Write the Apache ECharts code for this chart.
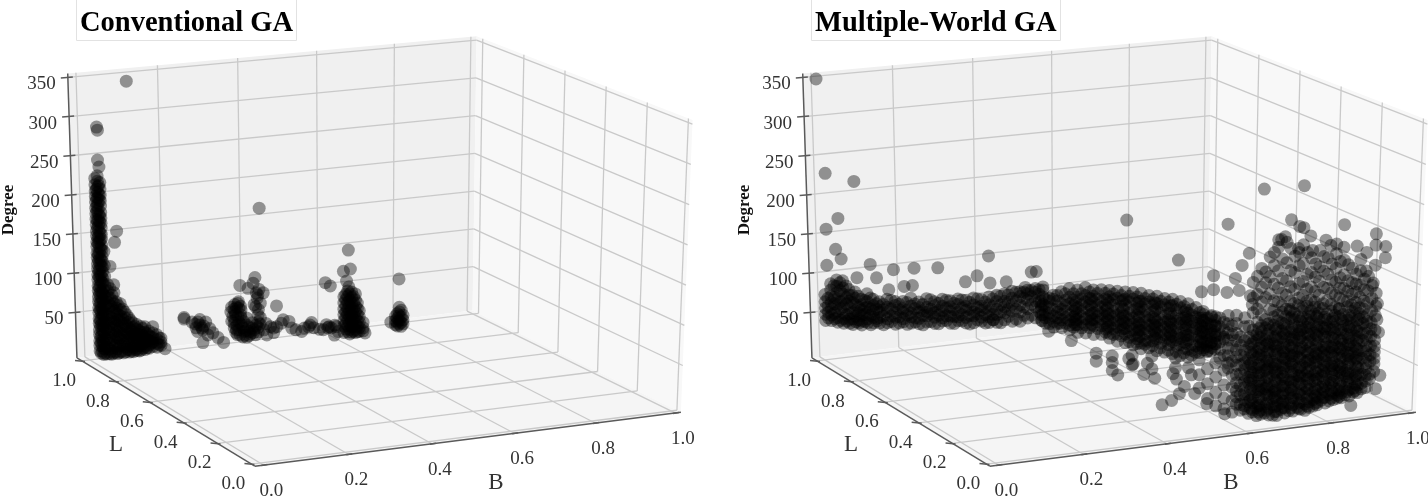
<!DOCTYPE html>
<html><head><meta charset="utf-8">
<style>html,body{margin:0;padding:0;background:#fff}#c{width:1428px;height:497px}</style>
<script src="https://cdn.jsdelivr.net/npm/echarts@6/dist/echarts.min.js"></script></head>
<body><div id="c"></div>
<script>
// Tick values
const bTicks=[0,.2,.4,.6,.8,1];
const lTicks=[0,.2,.4,.6,.8,1];
const degreeTicks=[50,100,150,200,250,300,350];

// Column form: [L, B, Degree, Degree, ...]  single points: [B, L, Degree]
const conventionalColumns=[
[1,.026,222,214,206,199,192,184,177,170,163,155,149,141,135,127,121,113,107,99,93,85,79,71,65,57,51,43,37,29,23,15,9,2],
[1,.032,225,218,211,204,197,190,183,176,169,162,155,148,141,134,127,120,113,106,99,92,85,78,71,64,57,50,43,36,29,22,15,8,1],
[1,.038,216,208,200,193,186,178,171,164,158,150,144,136,130,122,116,108,102,94,88,80,74,66,60,52,46,38,32,24,18,10,4,-2],
[1,.029,208,196,187,180,168,159,146,139,125,117,104,96,83,75,62,54,41,34,20,12,-1],
[1,.035,212,201,194,174,166,152,143,132,118,110,97,89,76,68,55,47,34,27,13,5,-3],
[1,.043,128,110,96,84,70,60,48,38,28,16,6,-3],
[1,.05,85,77,70,62,55,47,40,32,25,17,10,3,-3],
[1,.055,80,68,58,44,36,22,14,0,-4],
[1,.06,71,64,56,49,41,34,26,19,11,4,-3],
[1,.065,74,60,51,37,29,21,7,-2],
[1,.07,62,54,47,40,32,25,17,10,2,-4],
[1,.075,57,45,38,24,15,5,-3],
[1,.08,59,51,43,36,28,21,13,6,-2],
[1,.085,52,39,30,18,8,-4],
[1,.09,48,41,33,26,18,11,3,-3],
[1,.095,44,30,22,12,0],
[1,.10,40,34,27,20,13,6,-1,-4],
[1,.105,36,24,16,3,-3],
[1,.11,33,27,21,14,8,1,-4],
[1,.115,28,17,9,-2],
[1,.12,30,24,18,12,6,0,-3],
[1,.125,22,10,3,-4],
[1,.13,27,20,14,8,2,-3],
[1,.135,24,15,5,-1],
[1,.14,26,19,13,7,1,-3],
[1,.145,17,9,-1],
[1,.15,20,14,8,2,-2],
[1,.155,12,4],
[1,.16,25,17,11,5,0],
[1,.17,14,8,3,-2],
[1,.175,10,1],
[1,.18,9,4,0],
[1,.19,-5],
[.9,.605,50,42,34,27,19,12,4],
[.9,.615,57,50,42,34,27,19,12,4],
[.9,.625,55,48,40,33,25,18,10,3],
[.9,.635,52,44,36,29,21,14,6,2],
[.9,.61,53,46,38,30,23,15,8],
[.9,.62,53,45,38,30,23,15,7,1],
[.9,.63,49,41,33,26,19,11,4],
[.9,.64,40,33,25,17,10,3],
[.9,.645,30,22,15,8,3],
[.9,.655,14,7,3],
[.9,.74,17,11,6],
[.9,.75,22,17,11,6],
[.9,.76,17,11,6],
[.9,.745,20,14,9,4],
[.9,.755,24,15,8,3],
[.9,.728,10],[.9,.75,28],[.9,.749,65]
];
const conventionalPoints=[
[.11,1,342],[.034,1,287],[.036,1,283],[.034,1,245],[.037,1,236],[.436,1,162],[.076,1,152],[.07,1,138],[.666,1,95],
[.065,1,84],[.057,1,108],
[.24,1,32],[.24,1,30],[.28,1,20],[.26,1,25],[.27,1,17],[.287,1,13],[.295,1,23],[.28,1,27],[.30,1,6],[.313,1,8],[.287,1,-3],[.34,1,-6],[.326,1,1],[.274,1,12],[.29,1,18],[.305,1,14],[.275,1,24],[.285,1,16],[.268,1,22],
[.37,1,41],[.38,1,44],[.36,1,32],[.37,1,32],[.386,1,33],[.37,1,21],[.386,1,23],[.40,1,22],[.368,1,11],[.38,1,8],[.394,1,5],[.407,1,4],[.42,1,6],[.43,1,8],[.40,1,13],[.415,1,15],[.43,1,15],[.386,1,14],[.376,1,2],[.39,1,-2],[.407,1,-1],[.423,1,-1],
[.372,1,28],[.38,1,18],[.39,1,10],[.405,1,10],[.418,1,2],[.362,1,20],[.375,1,14],[.38,1,36],[.378,1,42],[.362,1,38],[.40,1,-3],[.43,1,2],[.372,1,5],[.385,1,27],
[.365,1,26],[.368,1,17],[.374,1,8],[.383,1,1],[.396,1,0],[.41,1,1],[.415,1,8],[.425,1,11],[.392,1,18],[.378,1,25],[.375,1,37],[.368,1,35],[.385,1,38],[.40,1,6],[.435,1,12],
[.384,1,65],[.423,1,73],[.418,1,66],[.426,1,53],[.444,1,52],[.405,1,60],[.431,1,31],[.478,1,33],[.436,1,20],[.428,1,46],[.433,1,57],[.436,1,39],[.42,1,38],[.43,1,24],[.43,1,50],[.424,1,35],
[.462,1,7],[.47,1,5],[.478,1,6],[.452,1,-3],[.47,1,-1],[.49,1,10],[.495,1,14],[.45,1,12],[.445,1,4],
[.51,1,11],[.517,1,2],[.543,1,-4],[.561,1,1],[.569,1,6],[.60,1,-5],[.621,1,-4],[.608,1,1],[.634,1,-3],[.528,1,-1],[.575,1,-1],[.59,1,-4],[.615,1,-2],[.55,1,0],[.565,1,3],[.612,1,-3],[.63,1,-1],
[.557,.9,71],[.57,.9,66],[.604,.9,83],[.622,.9,85],[.58,.9,2],[.59,.9,6],[.66,.9,0],[.612,.9,70],[.618,.9,62]
];

const worldArmColumns=[
[1,.005,75,66,58,50,42],
[1,.02,88,80,72,64,56,48,41],
[1,.035,92,84,76,68,60,52,44,38],
[1,.05,90,81,73,65,57,49,42,36],
[1,.065,78,71,63,55,47,40,35],
[1,.08,74,66,58,50,43,36],
[1,.095,64,57,50,43,36,31],
[1,.11,70,60,53,46,38,33],
[1,.125,62,54,47,39,32],
[1,.14,58,52,45,38,31],
[1,.16,60,50,44,35,30],
[1,.18,56,51,42,36,27],
[1,.20,55,46,41,33,29],
[1,.22,58,48,39,34,26],
[1,.24,52,45,39,31,24],
[1,.26,55,44,38,33,25],
[1,.28,50,45,36,30,22],
[1,.30,52,43,37,28,24],
[1,.32,49,41,35,29,20],
[1,.34,50,43,33,27,22],
[1,.36,47,39,34,25,18],
[1,.38,49,40,31,26,17],
[1,.40,46,37,32,23,18],
[1,.42,48,38,30,22,15],
[1,.44,49,41,31,24,14],
[1,.46,50,40,33,25,16],
[1,.48,52,43,35,26,13],
[1,.50,50,44,33,24,12],
[1,.52,51,46,38,27,15],
[1,.54,52,47,36,28,14],
[1,.56,53,49,40,30,17],
[1,.012,70,60,52,45],[1,.028,85,70,62,50,43],[1,.043,88,78,64,55,40],[1,.058,83,68,60,46,38],[1,.073,70,61,48,40,33],
[1,.088,68,54,46,38,34],[1,.103,62,52,44,35],[1,.118,64,50,42,30],[1,.133,56,49,37,34],[1,.15,54,47,39,28],
[1,.17,58,47,38,31],[1,.19,52,45,36,28],[1,.21,53,43,37,25],[1,.23,50,44,32,27],[1,.25,48,40,34,22],
[1,.27,53,41,35,25],[1,.29,47,38,32,21],[1,.31,50,40,30,24],[1,.33,45,37,28,19],[1,.35,48,38,29,21],
[1,.37,44,35,27,16],[1,.39,47,36,28,20],[1,.41,42,34,26,15],[1,.43,45,35,25,18],[1,.45,47,36,27,13],
[1,.47,48,38,29,20],[1,.49,50,39,28,15],[1,.51,49,41,30,19],[1,.53,50,42,32,18],[1,.55,50,44,34,21]
];
const worldBridgeColumns=[
[.6,.37,94,88,84,77,70],
[.6,.39,97,93,85,78,71,65],
[.6,.41,99,92,85,78,71,64],
[.6,.43,100,92,85,78,70,63],
[.6,.45,99,91,84,77,70,63,57],
[.6,.47,98,91,84,76,69,62,55],
[.6,.49,99,91,83,76,69,62,54],
[.6,.51,96,89,81,74,67,60,52],
[.6,.53,95,88,80,73,66,58,50,46],
[.6,.55,93,86,79,71,64,56,49,42],
[.6,.57,90,83,76,68,61,53,46,39],
[.6,.59,88,81,73,66,58,51,43,36,31],
[.6,.61,86,78,71,63,55,48,41,33,27],
[.6,.63,83,76,68,60,53,45,38,30,25],
[.6,.65,81,73,65,58,50,43,35,28,22],
[.6,.67,77,70,62,54,47,39,32,24,18],
[.6,.69,75,67,60,52,44,37,29,21,14],
[.6,.71,71,64,56,49,41,33,26,18,11],
[.6,.73,67,60,52,44,37,29,22,14,8],
[.6,.75,62,55,47,40,32,25,17,10,4],
[.6,.77,57,50,42,35,27,20,12,6],
[.6,.79,49,42,35,27,20,13,6],
[.6,.81,45,38,30,23,15,8],
[.6,.38,96,88,80,73,66],[.6,.40,100,95,82,74,67,60],[.6,.42,103,88,81,75,68,58],[.6,.44,106,95,87,73,66,60,54],
[.6,.46,103,94,81,74,66,59,50],[.6,.48,105,95,87,79,66,58,48],[.6,.50,101,93,86,72,64,56,45],[.6,.52,100,85,78,70,63,55,44],
[.6,.54,98,90,83,68,60,53,44,38],[.6,.56,96,87,74,66,58,51,42,33],[.6,.58,94,85,78,63,55,48,41,30],[.6,.60,92,84,69,60,53,45,38,26],
[.6,.62,90,80,73,66,50,43,35,27,20],[.6,.64,86,78,62,55,48,40,28,20],[.6,.66,84,75,68,52,45,37,30,15],[.6,.68,80,72,58,50,43,34,27,12],
[.6,.70,78,70,56,47,39,31,24,9],[.6,.72,74,66,52,46,34,27,19,5],[.6,.74,70,58,50,42,30,24,12,2],[.6,.76,64,52,44,37,28,15,7],[.6,.78,54,46,38,30,18,9],[.6,.80,50,41,33,24,17,6],
[.6,.455,88,80,72,66,60],[.6,.495,90,80,71,64,58],[.6,.535,86,76,69,61,52],[.6,.575,84,72,64,57,48],[.6,.615,80,70,60,52,44,36],[.6,.655,76,66,56,48,40,32],[.6,.695,70,60,50,42,34,26],[.6,.735,62,54,46,38,30,20],[.6,.775,50,40,32,24,15],
[.5,.50,30,22,12],[.5,.55,28,16],[.5,.60,24,8],[.5,.66,18,6],[.5,.46,36,26]
];
const worldBlobColumns=[
[.05,.51,44,60,78],[.05,.53,30,48,66,88],[.05,.55,20,36,55,72,95],[.05,.57,15,28,44,62,80,100],[.05,.59,10,24,40,55,72,90],
[.05,.52,136,125,112,100,92],[.05,.54,130,118,108,98,91],[.05,.55,128,117,105],[.05,.56,126,115,106,97,88,77],[.05,.57,120,111,102],
[.05,.58,128,118,107,98,88,79,70,64],[.05,.59,115,104],[.05,.60,127,117,105,96,85,76,66,55,45,35,28,19],[.05,.61,100,90,78,66,55,41,30,18,11],
[.05,.62,123,112,95,83,75,68,60,53,45,38,30,23,16,12],
[.05,.63,112,98,87,72,64,50,43,28,20,6],
[.05,.64,107,100,92,85,77,70,62,55,48,40,33,25,18,10,7],
[.05,.65,116,101,94,80,73,60,52,38,31,17,12,2],
[.05,.66,111,104,96,89,81,74,66,59,51,44,37,29,22,14,8,3],
[.05,.67,118,108,93,86,72,63,56,42,34,27,12,4],
[.05,.68,113,105,98,90,83,76,68,61,53,46,38,31,24,16,9,1],
[.05,.69,120,110,95,87,79,65,58,49,35,28,20,13,0],
[.05,.70,115,107,100,92,85,78,70,63,55,48,40,33,26,18,11,4,-1],
[.05,.71,125,112,102,94,82,71,60,51,43,35,23,13,6],
[.05,.72,119,111,104,96,89,81,74,67,59,52,44,37,29,22,15,7,1],
[.05,.73,127,116,100,93,83,72,64,57,41,32,24,12,3],
[.05,.74,122,114,107,99,92,85,77,70,62,55,47,40,33,25,18,10,2],
[.05,.75,131,117,105,96,88,75,68,53,45,38,24,16,6],
[.05,.76,124,116,109,101,94,86,79,72,64,57,49,42,34,27,20,12,3],
[.05,.77,129,113,103,97,83,74,60,53,44,31,23,9,1],
[.05,.78,123,116,108,101,93,86,78,71,63,56,49,41,34,26,19,11,4],
[.05,.79,127,118,106,95,87,73,65,58,43,36,22,13,5],
[.05,.80,119,112,104,97,90,82,75,67,60,52,45,38,30,23,15,9,6],
[.05,.81,124,110,101,93,78,70,62,48,41,27,19,11],
[.05,.82,117,110,102,95,88,80,73,65,58,51,43,36,28,21,14,7],
[.05,.83,120,106,97,88,76,69,56,49,35,28,17,9],
[.05,.84,114,107,99,92,84,77,70,62,55,47,40,33,25,18,10],
[.05,.85,121,112,96,85,74,66,52,45,36,22,15,11],
[.05,.86,114,106,99,91,84,77,69,62,54,47,39,32,25,17,11],
[.05,.87,123,107,100,89,75,67,59,44,37,23,14],
[.05,.88,117,109,102,94,87,79,72,65,57,50,42,35,27,20,12],
[.05,.89,120,111,96,86,73,64,56,41,33,21,16],
[.05,.90,113,106,98,91,83,76,68,61,54,46,39,31,24,15],
[.05,.91,108,100,88,79,66,57,45,37,26,19],
[.05,.92,102,95,87,80,72,65,58,50,43,35,28,20],
[.05,.93,92,83,71,60,52,36,30],
[.05,.94,78,70,63,55,48,39],
[.05,.635,90,80,66,56,46,35,22,12],[.05,.655,108,97,84,76,64,54,44,33,24,14,6],[.05,.675,112,100,88,78,67,57,47,36,26,15,7],[.05,.695,105,96,84,74,62,53,42,30,22,10,4],
[.05,.715,110,98,86,76,68,56,46,34,25,16,8],[.05,.735,118,103,90,80,70,60,50,38,28,18,6],[.05,.755,112,100,91,78,66,55,44,35,22,11,4],[.05,.775,120,108,94,85,71,62,48,39,27,15,6],
[.05,.795,115,102,92,80,69,59,47,37,26,17,8],[.05,.815,113,99,89,76,66,54,46,33,24,14],[.05,.835,110,100,86,74,64,52,42,31,21,12],[.05,.855,109,95,82,72,60,50,43,29,20,13],
[.05,.875,112,98,84,76,62,52,40,30,18],[.05,.895,105,92,80,70,58,48,36,26,18],
[.05,.64,128,146,165],[.05,.66,125,140,158,181],[.05,.68,130,149,170,194],[.05,.70,122,138,155,176,205],
[.05,.72,128,145,163,185,210],[.05,.74,134,151,172,192],[.05,.76,128,143,160,182,205],[.05,.78,136,152,170,188],
[.05,.80,126,141,158,176,196],[.05,.82,133,148,166,186],[.05,.84,124,139,155,172,190],[.05,.86,131,146,163,181],
[.05,.88,125,138,152,170],[.05,.90,120,133,148,166,180],[.05,.92,110,125,140,158],[.05,.94,90,108,120,136],
[.05,.65,132,150,172],[.05,.67,145,163,176],[.05,.69,128,140,160,183,199],[.05,.71,133,148,166,190],[.05,.73,125,137,155,175,202],[.05,.75,140,158,180,196],[.05,.77,135,150,168,195],[.05,.79,133,146,164,180],[.05,.81,130,150,170,188],[.05,.83,128,142,158,178],[.05,.85,122,135,147,160,180],[.05,.87,130,142,155,175],[.05,.89,127,140,150,162],[.05,.91,118,128,142,155],[.05,.93,100,115,130,146]
];
const worldPoints=[
[0,1,350],[.015,1,229],[.085,1,215],[.043,1,170],[.013,1,158],[.035,1,131],[.78,1,128],[.42,1,101],
[.79,.5,180],[.88,.5,220],[.88,.3,246],
[.012,1,112],[.048,1,118],[.12,1,107],[.178,1,97],[.23,1,96],[.29,1,93],[.135,1,89],[.36,1,71],[.39,1,77],[.423,1,66],[.465,1,65],[.514,1,55],[.53,1,74],[.543,1,74],[.204,1,74],[.225,1,74],[.165,1,72],[.086,1,92],
[.156,.05,132],[.208,.05,118],[.183,.05,140],[.142,.05,145],[.03,.05,152],
[.73,.05,237],[.858,.05,225],[.936,.05,210],[.76,.05,226],[.75,.05,228],[.777,.05,215],[.716,.05,217],[.70,.05,214],[.707,.05,214],[.814,.05,208],[.89,.05,197],[.96,.05,193],[.936,.05,196],[.748,.05,201],[.782,.05,197],[.826,.05,201],[.84,.05,202],[.858,.05,197],
[.63,.05,201],[.613,.05,187],[.597,.05,172],[.606,.05,157],[.577,.05,156],[.633,.05,149],[.545,.05,161],[.516,.05,160],[.638,.05,138],[.545,.05,178],[.462,.05,201],
[.949,.05,87],[.944,.05,103],[.944,.05,123],[.932,.05,149],[.914,.05,165],[.936,.05,171],[.96,.05,179],[.914,.05,188],[.885,.05,0],[.956,.05,33],[.946,.05,17],
[.315,.05,71],[.342,.05,89],[.352,.05,82],[.386,.05,81],[.377,.05,68],[.403,.05,62],[.42,.05,29],[.443,.05,33],[.462,.05,40],[.447,.05,65],[.455,.05,58],[.484,.05,70],[.491,.05,61],[.499,.05,38],[.474,.05,48],[.528,.05,24],[.572,.05,9]
];

// View geometry of the box (page pixels), corners at B,L ∈ {0,1}, Degree ∈ {-8,350}
const D0=-8,D1=350,W=.04;
const corners={f00:[260,463],f10:[671,411],f01:[90,360],f11:[473,314],t00:[246,156],t10:[682,123],t01:[81,79],t11:[477,43]};
const warp=b=>b*(1+W)/(1+W*b);
function proj(dx,b,l,d){
  const u=warp(b),t=(d-D0)/(D1-D0),c=corners;
  const mix=(i)=>{
    const f=(1-l)*((1-u)*c.f00[i]+u*c.f10[i])+l*((1-u)*c.f01[i]+u*c.f11[i]);
    const g=(1-l)*((1-u)*c.t00[i]+u*c.t10[i])+l*((1-u)*c.t01[i]+u*c.t11[i]);
    return f*(1-t)+g*t;
  };
  return [mix(0)+dx,mix(1)];
}
const BL=-.02,BR=1.015,LF=-.02,LB=1.03,DT=355;
const panels=[{dx:0,title:'Conventional GA',left:76,width:219,degX:9,lX:116,bX:496},{dx:735,title:'Multiple-World GA',left:811,width:248,degX:745,lX:851,bX:1231}];
const panes=[],gridSegs=[],axisSegs=[],labels=[];
const FONT='"Liberation Serif","Times New Roman",serif';
panels.forEach(p=>{
  const P=(b,l,d)=>proj(p.dx,b,l,d);
  panes.push({fill:'#f0f0f0',pts:[P(BL,LB,D0),P(BR,LB,D0),P(BR,LB,DT),P(BL,LB,DT)]});
  panes.push({fill:'#f8f8f8',pts:[P(BR,LF,D0),P(BR,LB,D0),P(BR,LB,DT),P(BR,LF,DT)]});
  panes.push({fill:'#f5f5f5',pts:[P(BL,LF,D0),P(BR,LF,D0),P(BR,LB,D0),P(BL,LB,D0)]});
  const seg=(arr,a,b)=>arr.push([a[0],a[1],b[0],b[1]]);
  bTicks.forEach(b=>{
    seg(gridSegs,P(b,LB,D0),P(b,LB,DT));
    seg(gridSegs,P(b,LF,D0),P(b,LB,D0));
    const q=P(b,LF,D0);
    axisSegs.push([q[0]-2,q[1]+.5,q[0]+4,q[1]-.5]);
    labels.push({x:q[0]+8,y:q[1]+26,text:b.toFixed(1),size:19});
  });
  lTicks.forEach(l=>{
    seg(gridSegs,P(BR,l,D0),P(BR,l,DT));
    seg(gridSegs,P(BL,l,D0),P(BR,l,D0));
    const q=P(BL,l,D0);
    axisSegs.push([q[0]-7,q[1]-.5,q[0]+3,q[1]+.5]);
    labels.push({x:q[0]-18,y:q[1]+20,text:l.toFixed(1),size:19});
  });
  degreeTicks.forEach(d=>{
    seg(gridSegs,P(BL,LB,d),P(BR,LB,d));
    seg(gridSegs,P(BR,LB,d),P(BR,LF,d));
    const q=P(BL,LB,d);
    axisSegs.push([q[0]-7,q[1]+.5,q[0]+5,q[1]-.5]);
    labels.push({x:q[0]-12,y:q[1]+7,text:String(d),size:19,align:'right'});
  });
  seg(axisSegs,P(BL,LB,D0),P(BL,LB,DT));
  seg(axisSegs,P(BL,LB,D0),P(BL,LF,D0));
  seg(axisSegs,P(BL,LF,D0),P(BR,LF,D0));
  labels.push({x:p.lX,y:445,text:'L',size:23});
  labels.push({x:p.bX,y:483,text:'B',size:23});
  labels.push({x:p.degX,y:210,text:'Degree',size:17,bold:true,rot:Math.PI/2});
});
const expand=cols=>cols.flatMap(c=>c.slice(2).map(d=>[c[1],c[0],d]));
const toScreen=(dx,rows)=>rows.map(r=>proj(dx,r[0],r[1],r[2]));
const leftData=toScreen(0,[...expand(conventionalColumns),...conventionalPoints]);
const rightData=toScreen(735,[...expand(worldArmColumns),...expand(worldBridgeColumns),...expand(worldBlobColumns),...worldPoints]);

const chart=echarts.init(document.getElementById('c'),null,{renderer:'canvas'});
const dot={symbol:'circle',symbolSize:13,itemStyle:{color:'rgba(0,0,0,0.5)',borderWidth:0},silent:true,z:5,clip:false,emphasis:{disabled:true}};
const lineSeries=(name,data,color,width,z)=>({type:'custom',name,coordinateSystem:'cartesian2d',silent:true,z,clip:false,
  encode:{x:[0,2],y:[1,3]},data,
  renderItem:(ps,api)=>{const a=api.coord([api.value(0),api.value(1)]),b=api.coord([api.value(2),api.value(3)]);
    return {type:'line',shape:{x1:a[0],y1:a[1],x2:b[0],y2:b[1]},style:{stroke:color,lineWidth:width}};}});
chart.setOption({
  animation:false,backgroundColor:'#fff',
  title:panels.map(p=>({text:p.title,left:p.left,top:1,padding:[10,4,2,4],borderColor:'#e2e2e2',borderWidth:1,
    textStyle:{fontFamily:FONT,fontSize:28.5,lineHeight:26,fontWeight:'bold',color:'#000',width:p.width-8,align:'center'}})),
  grid:{left:0,right:0,top:0,bottom:0,containLabel:false},
  xAxis:{type:'value',min:0,max:1428,show:false},
  yAxis:{type:'value',min:0,max:497,inverse:true,show:false},
  series:[
    {type:'custom',name:'panes',coordinateSystem:'cartesian2d',silent:true,z:1,clip:false,encode:{x:0,y:1},
      data:panes.map((p,i)=>[p.pts[0][0],p.pts[0][1],i]),
      renderItem:(ps,api)=>{const p=panes[api.value(2)];
        return {type:'polygon',shape:{points:p.pts.map(q=>api.coord(q))},style:{fill:p.fill}};}},
    lineSeries('grid',gridSegs,'#c9c9c9',1.3,2),
    lineSeries('axes',axisSegs,'#5a5a5a',1.5,3),
    Object.assign({type:'scatter',name:'Conventional GA',data:leftData},dot),
    Object.assign({type:'scatter',name:'Multiple-World GA',data:rightData},dot),
    {type:'custom',name:'labels',coordinateSystem:'cartesian2d',silent:true,z:6,clip:false,encode:{x:0,y:1},
      data:labels.map((t,i)=>[t.x,t.y,i]),
      renderItem:(ps,api)=>{const t=labels[api.value(2)],c=api.coord([t.x,t.y]);
        return {type:'text',x:c[0],y:c[1],rotation:t.rot||0,style:{text:t.text,fill:t.bold?'#111':'#333',align:t.align||'center',verticalAlign:'middle',
          font:(t.bold?'bold ':'')+t.size+'px '+FONT}};}}
  ]
});
</script></body></html>
